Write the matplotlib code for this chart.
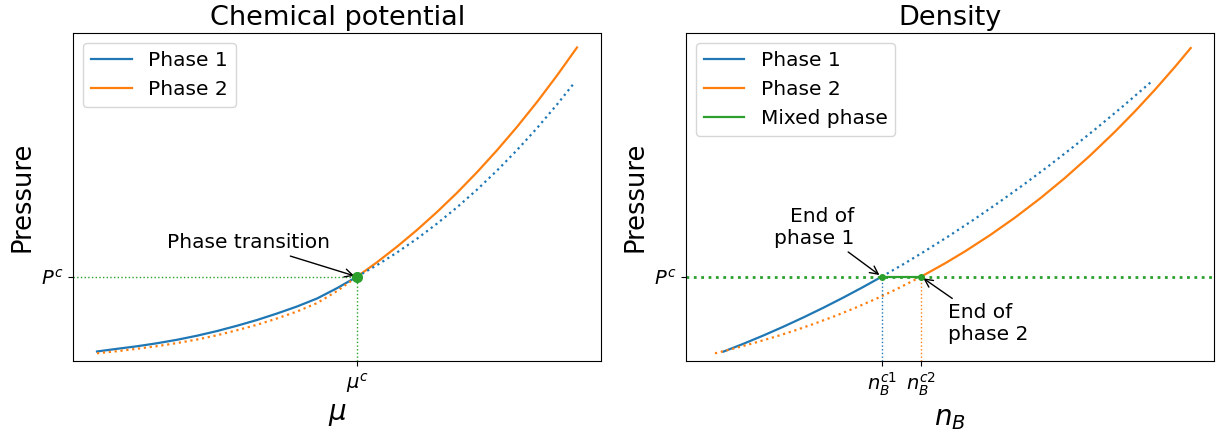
import matplotlib
matplotlib.use("Agg")
import matplotlib.pyplot as plt

# ---- Chemical potential panel: pressure vs mu ----
mu_c = 5.417
P_c = 2.57

mu_phase1 = [0.0, 0.417, 0.833, 1.25, 1.667, 2.083, 2.5, 2.917, 3.333,
             3.75, 4.167, 4.583, 5.0, 5.417]
P_phase1 = [0.29, 0.371, 0.449, 0.541, 0.647, 0.771, 0.913, 1.075, 1.250,
            1.448, 1.662, 1.905, 2.220, 2.570]
mu_phase1_ext = [5.417, 5.833, 6.25, 6.667, 7.083, 7.5, 7.917, 8.333,
                 8.75, 9.167, 9.583, 9.958]
P_phase1_ext = [2.570, 2.922, 3.308, 3.729, 4.188, 4.685, 5.224, 5.805,
                6.430, 7.100, 7.819, 8.506]

mu_phase2_ext = [0.0, 0.417, 0.833, 1.25, 1.667, 2.083, 2.5, 2.917, 3.333,
                 3.75, 4.167, 4.583, 5.0, 5.417]
P_phase2_ext = [0.235, 0.298, 0.373, 0.452, 0.547, 0.655, 0.785, 0.938,
                1.104, 1.297, 1.509, 1.765, 2.131, 2.570]
mu_phase2 = [5.417, 5.833, 6.25, 6.667, 7.083, 7.5, 7.917, 8.333, 8.75,
             9.167, 9.583, 10.0]
P_phase2 = [2.570, 3.010, 3.485, 3.995, 4.542, 5.127, 5.755, 6.424, 7.137,
            7.896, 8.703, 9.558]

# ---- Density panel: pressure vs n_B ----
n_c1 = 3.502
n_c2 = 4.328

n_phase1 = [0.174, 0.594, 1.015, 1.435, 1.855, 2.275, 2.696, 3.116, 3.502]
Pn_phase1 = [0.284, 0.523, 0.777, 1.045, 1.327, 1.623, 1.934, 2.259, 2.570]
n_phase1_ext = [3.502, 3.956, 4.376, 4.901, 5.426, 5.952, 6.477, 7.002,
                7.527, 8.053, 8.578, 9.160]
Pn_phase1_ext = [2.570, 2.951, 3.319, 3.798, 4.300, 4.824, 5.370, 5.938,
                 6.529, 7.142, 7.777, 8.506]

n_phase2_ext = [0.0, 0.420, 0.840, 1.261, 1.681, 2.101, 2.521, 2.941,
                3.361, 3.782, 4.328]
Pn_phase2_ext = [0.235, 0.390, 0.558, 0.738, 0.933, 1.144, 1.371, 1.617,
                 1.882, 2.167, 2.570]
n_phase2 = [4.328, 4.832, 5.252, 5.777, 6.303, 6.828, 7.353, 7.878, 8.403,
            8.824, 9.244, 9.664, 9.994]
Pn_phase2 = [2.570, 2.977, 3.342, 3.836, 4.373, 4.954, 5.582, 6.261, 6.991,
             7.614, 8.273, 8.969, 9.542]

blue = "#1f77b4"
orange = "#ff7f0e"
green = "#2ca02c"
lw_curve = 1.6

fig = plt.figure(figsize=(12.17, 4.32), dpi=100)
W, H = 1217.0, 432.0
ax1 = fig.add_axes([73.3 / W, 1 - 361 / H, 527.7 / W, 328 / H])
ax2 = fig.add_axes([686 / W, 1 - 361 / H, 528 / W, 328 / H])

# left panel
xlim1 = ((73.3 - 97) / 48, (601 - 97) / 48)
ylim = (0, 10)
ax1.set_xlim(xlim1)
ax1.set_ylim(ylim)
ax1.plot(mu_phase1, P_phase1, color=blue, lw=lw_curve, label="Phase 1")
ax1.plot(mu_phase2, P_phase2, color=orange, lw=lw_curve, label="Phase 2")
ax1.plot(mu_phase1_ext, P_phase1_ext, color=blue, lw=lw_curve, ls=":")
ax1.plot(mu_phase2_ext, P_phase2_ext, color=orange, lw=lw_curve, ls=":")
ax1.plot([xlim1[0], mu_c], [P_c, P_c], color=green, lw=1, ls=":")
ax1.plot([mu_c, mu_c], [ylim[0], P_c], color=green, lw=1, ls=":")
ax1.plot([mu_c], [P_c], "o", color=green, ms=7, zorder=5)
ax1.annotate("Phase transition", xy=(mu_c, P_c), xytext=(3.146, 3.598),
             ha="center", va="center", fontsize=14.5,
             arrowprops=dict(arrowstyle="->", color="black", lw=1))
ax1.set_xticks([mu_c])
ax1.set_xticklabels([r"$\mu^c$"], fontsize=14)
ax1.set_yticks([P_c])
ax1.set_yticklabels([r"$P^c$"], fontsize=14)
ax1.set_xlabel(r"$\mu$", fontsize=20)
ax1.set_ylabel("Pressure", fontsize=18.5)
ax1.set_title("Chemical potential", fontsize=19.5)
ax1.legend(loc="upper left", fontsize=14.5)

# right panel
xlim2 = ((686 - 715) / 47.6, (1214 - 715) / 47.6)
ax2.set_xlim(xlim2)
ax2.set_ylim(ylim)
ax2.plot(n_phase1, Pn_phase1, color=blue, lw=lw_curve, label="Phase 1")
ax2.plot(n_phase2, Pn_phase2, color=orange, lw=lw_curve, label="Phase 2")
ax2.plot([n_c1, n_c2], [P_c, P_c], color=green, lw=lw_curve,
         label="Mixed phase")
ax2.plot(n_phase1_ext, Pn_phase1_ext, color=blue, lw=lw_curve, ls=":")
ax2.plot(n_phase2_ext, Pn_phase2_ext, color=orange, lw=lw_curve, ls=":")
ax2.axhline(P_c, color=green, lw=2, ls=":")
ax2.plot([n_c1, n_c1], [ylim[0], P_c], color=blue, lw=1, ls=":")
ax2.plot([n_c2, n_c2], [ylim[0], P_c], color=orange, lw=1, ls=":")
ax2.plot([n_c1, n_c2], [P_c, P_c], "o", color=green, ms=4, zorder=5)
ax2.annotate("End of\nphase 1", xy=(n_c1, P_c), xytext=(2.088, 4.085),
             ha="center", va="center", multialignment="right", fontsize=14.5,
             arrowprops=dict(arrowstyle="->", color="black", lw=1))
ax2.annotate("End of\nphase 2", xy=(n_c2, P_c), xytext=(5.735, 1.149),
             ha="center", va="center", multialignment="left", fontsize=14.5,
             arrowprops=dict(arrowstyle="->", color="black", lw=1))
ax2.set_xticks([n_c1, n_c2])
ax2.set_xticklabels([r"$n_B^{c1}$", r"$n_B^{c2}$"], fontsize=14)
ax2.set_yticks([P_c])
ax2.set_yticklabels([r"$P^c$"], fontsize=14)
ax2.set_xlabel(r"$n_B$", fontsize=20)
ax2.set_ylabel("Pressure", fontsize=18.5)
ax2.set_title("Density", fontsize=19.5)
ax2.legend(loc="upper left", fontsize=14.5)

fig.savefig("out.png", dpi=100)
